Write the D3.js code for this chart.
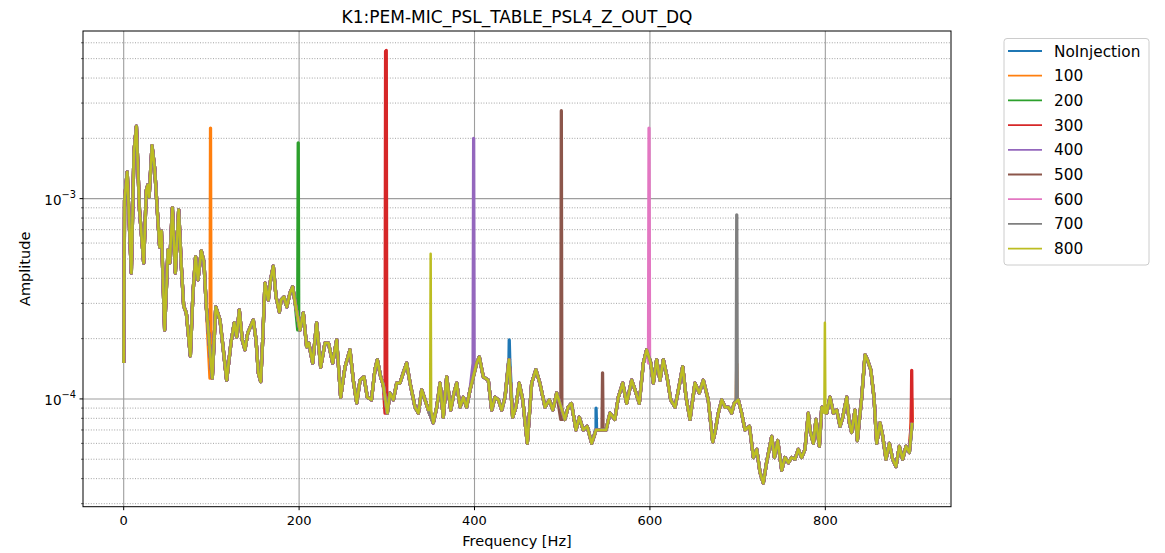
<!DOCTYPE html>
<html><head><meta charset="utf-8">
<script src="https://cdn.jsdelivr.net/npm/d3@7"></script>
<style>body{margin:0;background:#fff;} text{font-family:"DejaVu Sans",sans-serif;fill:#000;}</style>
</head><body><svg id="chart" width="1165" height="553"></svg>
<script>
// Shared noise floor: [frequency Hz, amplitude x1e-4]
const baseline = [[0,1.51],[1,9.8],[4,13.6],[8.7,4.26],[11.7,17.1],[14.5,23.0],[18,8.8],[22.8,4.78],[25.8,11.0],[27.5,11.7],[29,10.2],[32.3,18.4],[35.3,14.2],[39,7.83],[41,5.74],[43,6.9],[46.7,2.21],[50.5,5.55],[52.5,4.78],[55.5,9.0],[58.9,4.26],[62.7,8.8],[65.7,4.6],[68.4,2.91],[71.4,2.69],[76,1.64],[79,3.38],[82,5.12],[84.7,3.93],[88.5,5.49],[91.5,4.83],[94.2,2.88],[101,1.27],[105,2.88],[109.8,2.48],[113.6,1.76],[117.4,1.24],[122.3,1.9],[126.1,2.4],[128.8,2.04],[131.8,2.78],[135.2,1.97],[138.3,1.76],[141.4,2.13],[147.8,2.48],[150.9,1.97],[153.5,1.35],[156.2,1.22],[158.5,1.97],[161.1,3.79],[164.9,3.12],[167.5,3.93],[170.6,4.6],[173.7,3.23],[177.5,2.72],[179.5,3.12],[182.8,3.23],[186,2.88],[189.6,3.38],[192.7,3.63],[195.5,3.01],[201,2.21],[204.8,2.69],[208.6,1.82],[211,1.9],[215.5,1.51],[220,2.4],[224.6,1.44],[229.5,1.9],[233.5,1.9],[238.3,1.51],[242.8,1.97],[247.4,1.02],[252.3,1.44],[258,1.76],[261.8,1.24],[265.7,0.955],[269.5,1.24],[274,1.29],[277.8,1.02],[282.5,0.99],[286.5,1.40],[289.2,1.57],[293,1.29],[296,1.17],[300.6,0.85],[303.6,1.07],[307.5,0.99],[311.3,1.2],[315,1.2],[318.8,1.35],[322.6,1.51],[326.5,1.2],[332.2,0.91],[336,0.85],[339.8,1.11],[343.6,0.99],[347.4,0.88],[353,0.76],[357,0.91],[360.7,1.2],[364.4,0.81],[368.3,1.29],[372.9,0.88],[376.6,1.07],[379.7,1.2],[383.5,0.91],[387.3,1.02],[391,0.91],[394.9,1.11],[402.5,1.51],[405.5,1.62],[410,1.29],[415.7,1.24],[419.6,0.88],[423.4,1.02],[427.2,0.99],[431,0.88],[434.8,1.02],[439.3,1.57],[443.5,0.81],[447.3,0.91],[451,1.2],[455,0.99],[460.2,0.6],[465.2,1.2],[470,1.4],[474.5,1.2],[480.4,0.91],[485.3,0.99],[489.3,0.88],[493.7,1.07],[503,0.79],[506.8,0.91],[510.5,0.95],[515.7,0.70],[519.5,0.81],[524,0.70],[528.5,0.73],[533.6,0.6],[538.6,0.70],[542,0.70],[550,0.70],[554.5,0.85],[560,0.79],[564,1.02],[569,1.2],[573.5,0.95],[579.2,1.24],[583,1.11],[587.9,0.95],[592.5,1.51],[596.3,1.76],[601,1.51],[603.9,1.2],[607.7,1.57],[611.5,1.24],[615.3,1.57],[619.5,1.29],[623.7,0.99],[628.7,0.91],[632.5,1.11],[637.4,1.45],[641.2,1.02],[645.7,0.79],[651.4,1.2],[656.3,1.07],[660.9,1.24],[666.5,0.99],[671.6,0.61],[674.2,0.68],[678,0.85],[681.9,0.99],[685.7,0.91],[689.5,0.91],[693.3,0.85],[696,0.95],[700.8,0.99],[704.6,0.85],[708.4,0.70],[713.5,0.73],[718,0.51],[721.8,0.56],[725.5,0.43],[729.3,0.38],[733,0.48],[738.9,0.65],[742,0.51],[745.7,0.62],[750.3,0.44],[754,0.51],[758,0.48],[761.6,0.51],[765.4,0.50],[769.2,0.56],[773,0.51],[776.8,0.56],[780.6,0.85],[782.5,0.70],[786.3,0.60],[789.4,0.79],[793.2,0.58],[796,0.91],[801.6,0.85],[805.4,1.02],[809.2,0.85],[813,0.88],[816.8,0.73],[819.9,0.81],[824.4,1.02],[827.4,0.76],[830,0.68],[833.9,0.88],[836.5,0.62],[841.5,1.02],[845.3,1.66],[848,1.57],[851.8,1.40],[855.5,1.02],[858.6,0.60],[862.4,0.76],[865.5,0.65],[869.2,0.50],[873,0.60],[876.8,0.50],[880.6,0.46],[884.4,0.58],[888.2,0.50],[892,0.58],[895.8,0.54],[899,0.76]];

const seriesNames = ["NoInjection","100","200","300","400","500","600","700","800"];
const seriesColors = ["#1f77b4","#ff7f0e","#2ca02c","#d62728","#9467bd","#8c564b","#e377c2","#7f7f7f","#bcbd22"];
// Narrow lines that each series has on top of the floor: frequency (Hz) and amplitude (x1e-4)
const peakFreqs = [[439.6,538.6],[99,699,898.5],[199],[298.6,299.4,898.5],[399],[499,546],[599],[699],[350,799.5]];
const peakAmps  = [[1.97,0.9],[22.5,1.5,1.0],[19.0],[54.5,55.0,1.39],[20.0],[27.5,1.35],[22.5],[8.3],[5.3,2.4]];

const xTicks = [0,200,400,600,800];
const yMajor = [1e-4,1e-3];
const yMinor = [3e-5,4e-5,5e-5,6e-5,7e-5,8e-5,9e-5,2e-4,3e-4,4e-4,5e-4,6e-4,7e-4,8e-4,9e-4,2e-3,3e-3,4e-3,5e-3,6e-3];
const yMajorLabels = ["−4","−3"];
const unit = 1e-4;

const svg = d3.select("#chart");
const L=83, T=31, R=951, B=506.7;
const x = d3.scaleLinear().domain([-46.4, 943.3]).range([L, R]);
const y = d3.scaleLog().domain([2.897e-5, 6.87e-3]).range([B, T]);

svg.append("rect").attr("width",1165).attr("height",553).attr("fill","#fff");

// minor grid
svg.append("g").selectAll("line").data(yMinor).join("line")
  .attr("x1",L).attr("x2",R).attr("y1",d=>y(d)).attr("y2",d=>y(d))
  .attr("stroke","#999").attr("stroke-width",0.9).attr("stroke-dasharray","1,1.6");
// major grid
svg.append("g").selectAll("line").data(yMajor).join("line")
  .attr("x1",L).attr("x2",R).attr("y1",d=>y(d)).attr("y2",d=>y(d))
  .attr("stroke","#9e9e9e").attr("stroke-width",1.1);
svg.append("g").selectAll("line").data(xTicks).join("line")
  .attr("x1",d=>x(d)).attr("x2",d=>x(d)).attr("y1",T).attr("y2",B)
  .attr("stroke","#9e9e9e").attr("stroke-width",1.1);

// series
function seriesPoints(i){
  const pts = baseline.map(d=>[d[0], d[1]*unit]);
  peakFreqs[i].forEach((f,k)=>{
    const near = baseline.reduce((a,b)=>Math.abs(b[0]-f)<Math.abs(a[0]-f)?b:a);
    pts.push([f-0.6, near[1]*unit],[f, peakAmps[i][k]*unit],[f+0.6, near[1]*unit]);
  });
  return pts.sort((a,b)=>a[0]-b[0]);
}
const line = d3.line().x(d=>x(d[0])).y(d=>y(d[1]));
const gLines = svg.append("g");
seriesNames.forEach((n,i)=>{
  gLines.append("path").attr("d", line(seriesPoints(i)))
    .attr("fill","none").attr("stroke",seriesColors[i])
    .attr("stroke-width", i===8?2.5:3.3).attr("stroke-linejoin","round");
});

// frame
svg.append("rect").attr("x",L).attr("y",T).attr("width",R-L).attr("height",B-T)
  .attr("fill","none").attr("stroke","#000").attr("stroke-width",1);

// x axis ticks
const gx = svg.append("g");
gx.selectAll("line").data(xTicks).join("line")
  .attr("x1",d=>x(d)).attr("x2",d=>x(d)).attr("y1",B).attr("y2",B+3.5).attr("stroke","#000");
gx.selectAll("text").data(xTicks).join("text")
  .attr("x",d=>x(d)).attr("y",B+18.5).attr("text-anchor","middle").attr("font-size",13).text(d=>d);
// y ticks
const gy = svg.append("g");
gy.selectAll("line.maj").data(yMajor).join("line").attr("class","maj")
  .attr("x1",L-3.5).attr("x2",L).attr("y1",d=>y(d)).attr("y2",d=>y(d)).attr("stroke","#000");
gy.selectAll("line.min").data(yMinor).join("line").attr("class","min")
  .attr("x1",L-2).attr("x2",L).attr("y1",d=>y(d)).attr("y2",d=>y(d)).attr("stroke","#000").attr("stroke-width",0.6);
const yl = gy.selectAll("text").data(yMajor).join("text")
  .attr("x",L-7).attr("y",d=>y(d)+6).attr("text-anchor","end").attr("font-size",13.5);
yl.append("tspan").text("10");
yl.append("tspan").attr("dy",-6.5).attr("font-size",9.8).text((d,i)=>yMajorLabels[i]);

// labels
svg.append("text").attr("x",(L+R)/2).attr("y",546).attr("text-anchor","middle").attr("font-size",14.5).text("Frequency [Hz]");
svg.append("text").attr("transform",`translate(30,${(T+B)/2}) rotate(-90)`).attr("text-anchor","middle").attr("font-size",14.5).text("Amplitude");
svg.append("text").attr("x",(L+R)/2).attr("y",23).attr("text-anchor","middle").attr("font-size",17).text("K1:PEM-MIC_PSL_TABLE_PSL4_Z_OUT_DQ");

// legend
const lg = svg.append("g");
lg.append("rect").attr("x",1004).attr("y",38.5).attr("width",145).attr("height",226.5).attr("rx",3)
  .attr("fill","#fff").attr("stroke","#cccccc").attr("stroke-width",1);
seriesNames.forEach((n,i)=>{
  const yy = 51 + i*24.7;
  lg.append("line").attr("x1",1008).attr("x2",1042).attr("y1",yy).attr("y2",yy)
    .attr("stroke",seriesColors[i]).attr("stroke-width",1.8);
  lg.append("text").attr("x",1054).attr("y",yy+5.5).attr("font-size",15.3).text(n);
});
</script></body></html>
